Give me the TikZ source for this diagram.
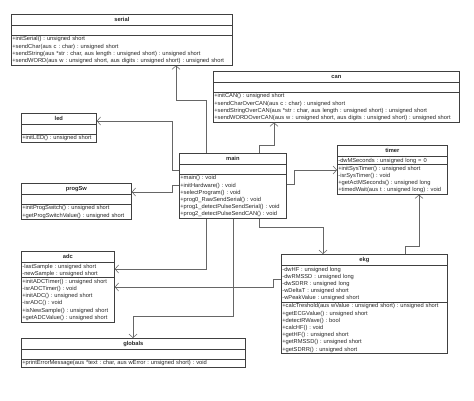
\documentclass[tikz,border=0pt]{standalone}
\usepackage{fontspec}
\setmainfont{Liberation Sans}
\usepackage{tikz}
\usetikzlibrary{arrows.meta}
\usetikzlibrary{shapes.multipart}
\tikzstyle{classnode}=[draw=black!75, line width=0.7pt, shape=rectangle split, rectangle split parts=3, inner xsep=1pt, inner ysep=1pt, anchor=north west, align=left, font=\fontsize{5.75}{7.2}\selectfont\frenchspacing, text=black!85]
\tikzstyle{depline}=[-{Straight Barb[length=3.5pt, width=8pt]}, line width=0.55pt, color=black!60]
\newcommand{\clstitle}[1]{\null\hfill\rule[-2.5pt]{0pt}{8.5pt}\textbf{#1}\hfill\null}

\begin{document}
\begin{tikzpicture}[x=1pt, y=1pt]
\useasboundingbox (0,0) rectangle (474,-400);

\node [classnode, text width=219pt] (serial) at (11,-14) {\clstitle{serial}\nodepart{two}\strut\nodepart{three}+initSerial() : unsigned short\\+sendChar(aus c : char) : unsigned short\\+sendString(aus *str : char, aus length : unsigned short) : unsigned short\\+sendWORD(aus w : unsigned short, aus digits : unsigned short) : unsigned short};
\node [classnode, text width=244pt] (can) at (213,-71) {\clstitle{can}\nodepart{two}\strut\nodepart{three}+initCAN() : unsigned short\\+sendCharOverCAN(aus c : char) : unsigned short\\+sendStringOverCAN(aus *str : char, aus length : unsigned short) : unsigned short\\+sendWORDOverCAN(aus w : unsigned short, aus digits : unsigned short) : unsigned short};
\node [classnode, text width=73pt] (led) at (21,-113) {\clstitle{led}\nodepart{two}\strut\nodepart{three}+initLED() : unsigned short};
\node [classnode, text width=108pt] (progSw) at (21,-183) {\clstitle{progSw}\nodepart{two}\strut\nodepart{three}+initProgSwitch() : unsigned short\\+getProgSwitchValue() : unsigned short};
\node [classnode, text width=105pt] (main) at (179,-153) {\clstitle{main}\nodepart{two}\strut\nodepart{three}+main() : void\\+initHardware() : void\\+selectProgram() : void\\+prog0\_RawSendSerial() : void\\+prog1\_detectPulseSendSerial() : void\\+prog2\_detectPulseSendCAN() : void};
\node [classnode, text width=108pt] (timer) at (337,-145) {\clstitle{timer}\nodepart{two}-dwMSeconds : unsigned long = 0\nodepart{three}+initSysTimer() : unsigned short\\-isrSysTimer() : void\\+getActMSeconds() : unsigned long\\+timedWait(aus t : unsigned long) : void};
\node [classnode, text width=91pt] (adc) at (21,-251) {\clstitle{adc}\nodepart{two}-lastSample : unsigned short\\-newSample : unsigned short\nodepart{three}+initADCTimer() : unsigned short\\-isrADCTimer() : void\\+initADC() : unsigned short\\-isrADC() : void\\+isNewSample() : unsigned short\\+getADCValue() : unsigned short};
\node [classnode, text width=164pt] (ekg) at (281,-254) {\clstitle{ekg}\nodepart{two}-dwHF : unsigned long\\-dwRMSSD : unsigned long\\-dwSDRR : unsigned long\\-wDeltaT : unsigned short\\-wPeakValue : unsigned short\nodepart{three}+calcTreshold(aus wValue : unsigned short) : unsigned short\\+getECGValue() : unsigned short\\+detectRWave() : bool\\+calcHF() : void\\+getHF() : unsigned short\\+getRMSSD() : unsigned short\\+getSDRR() : unsigned short};
\node [classnode, text width=222pt] (globals) at (21,-338) {\clstitle{globals}\nodepart{two}\strut\nodepart{three}+printErrorMessage(aus *text : char, aus wError : unsigned short) : void};

% dependencies of main
\draw[depline] ([xshift=27pt]main.north west) -- ++(0,53) -| ([xshift=165pt]serial.south west);
\draw[depline] ([xshift=80pt]main.north west) -- ++(0,8) -| ([xshift=61pt]can.south west);
\draw[depline] ([yshift=-17pt]main.north west) -- ++(-7,0) |- ([yshift=-8pt]led.north east);
\draw[depline] ([yshift=-32pt]main.north west) -- ++(-7,0) |- ([yshift=-9pt]progSw.north east);
\draw[depline] ([yshift=-31pt]main.north east) -- ++(8,0) |- ([yshift=-25pt]timer.north west);
\draw[depline] ([xshift=27pt]main.south west) |- ([yshift=-18pt]adc.north east);
\draw[depline] ([xshift=54pt]main.south west) -- ++(0,-97) -| ([xshift=112pt]globals.north west);
\draw[depline] ([xshift=80pt]main.south west) -- ++(0,-8) -| ([xshift=42pt]ekg.north west);
% dependencies of ekg
\draw[depline] ([yshift=-25pt]ekg.north west) -- ++(-8,0) |- ([yshift=-36pt]adc.north east);
\draw[depline] ([xshift=124pt]ekg.north west) -- ++(0,8) -| ([xshift=82pt]timer.south west);
\end{tikzpicture}
\end{document}
